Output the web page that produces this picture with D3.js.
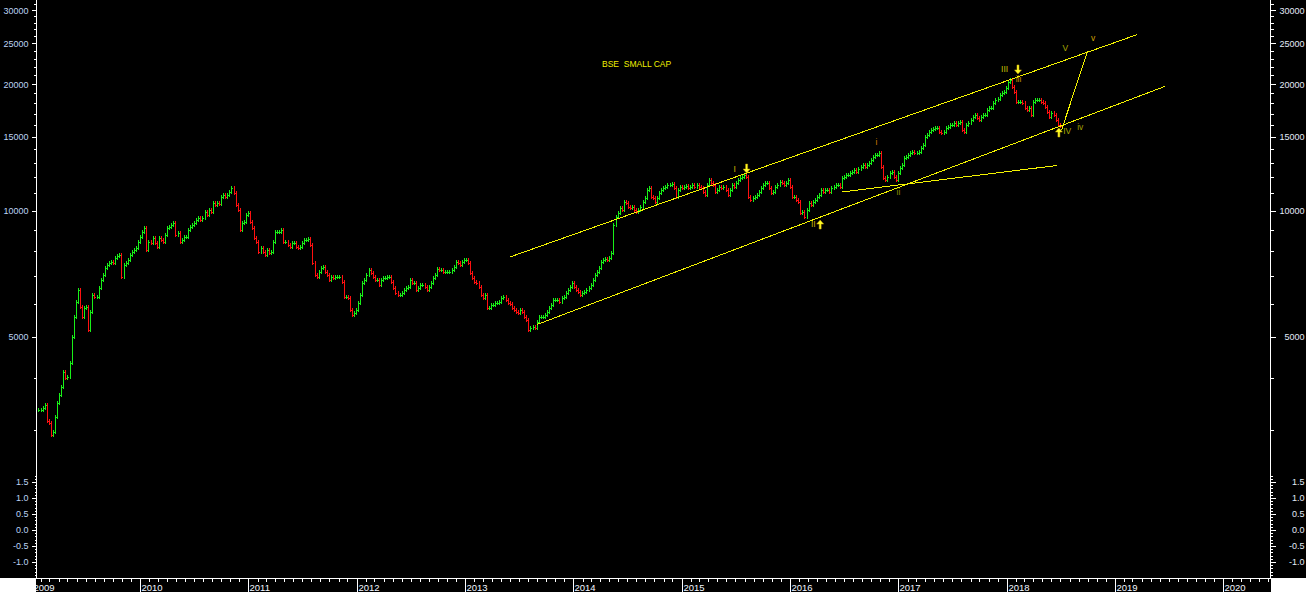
<!DOCTYPE html>
<html>
<head>
<meta charset="utf-8">
<script src="https://d3js.org/d3.v7.min.js"></script>
<style>
  html, body { margin: 0; padding: 0; background: #000; }
  svg { display: block; }
  text { font-family: "Liberation Sans", Arial, sans-serif; }
</style>
</head>
<body>
<div id="mainDiv"></div>
<script>
'use strict';

// weekly closes, one array per calendar year (first bar: week of 23 Jan 2009)
var wk2009 = [3350, 3350, 3390, 3440, 3150, 3120, 2920, 2970, 3220, 3480,
              3640, 3800, 4130, 4000, 4020, 4330, 5000, 5580, 6050, 6470,
              5890, 5580, 5850, 5890, 5190, 5730, 6290, 6220, 6220, 6540,
              6830, 7020, 7300, 7420, 7500, 7540, 7500, 7700, 7790, 7830,
              6940, 7420, 7500, 7620, 7830, 7960, 8050, 8140, 8420];
var wk2010 = [8650, 8890, 9090, 8050, 8420, 8370, 8600, 8370, 8190, 8600,
              8510, 8420, 8740, 9090, 9140, 9240, 9340, 8740, 8840, 8420,
              8510, 8650, 8650, 8990, 9140, 9240, 9340, 9490, 9600, 9490,
              9600, 9920, 9760, 10030, 9920, 10420, 10310, 10420, 10360, 10770,
              10890, 10770, 10890, 11070, 11320, 11010, 10310, 10030, 8990, 9340,
              9390, 9760, 9870];
var wk2011 = [9390, 9090, 8600, 8420, 7960, 8140, 7960, 7830, 8050, 7920,
              7960, 8420, 8890, 8890, 8890, 8990, 8420, 8420, 8280, 8190,
              8370, 8370, 8190, 8140, 8190, 8370, 8510, 8510, 8560, 8280,
              7500, 7020, 6940, 7140, 7300, 7340, 7140, 7020, 6830, 6940,
              6900, 6940, 6940, 6940, 6760, 6220, 6220, 6190, 5790, 5640,
              5700, 5790];
var wk2012 = [6020, 6290, 6720, 6830, 7020, 7220, 7100, 6940, 6830, 6830,
              6650, 6830, 6900, 6900, 6940, 6940, 6760, 6540, 6360, 6290,
              6290, 6360, 6470, 6540, 6580, 6830, 6720, 6720, 6470, 6540,
              6650, 6650, 6580, 6470, 6580, 6720, 6900, 7020, 7260, 7220,
              7220, 7140, 7140, 7140, 7140, 7220, 7340, 7540, 7500, 7420,
              7540, 7620];
var wk2013 = [7620, 7500, 7100, 6900, 6760, 6720, 6580, 6290, 6190, 6290,
              5850, 5850, 5950, 5950, 6020, 6020, 6050, 6190, 6220, 6120,
              6020, 5980, 5850, 5790, 5730, 5700, 5790, 5730, 5580, 5480,
              5190, 5260, 5290, 5240, 5430, 5580, 5580, 5580, 5640, 5730,
              5850, 5950, 6120, 6120, 6120, 6050, 6190, 6220, 6360, 6470,
              6580, 6720];
var wk2014 = [6580, 6470, 6400, 6290, 6360, 6400, 6470, 6540, 6650, 6830,
              7020, 7140, 7300, 7540, 7620, 7660, 7620, 7700, 7920, 9240,
              9650, 9870, 10140, 10030, 10480, 10420, 10200, 10140, 10200, 10030,
              9920, 10030, 10200, 10480, 10710, 11190, 11320, 10770, 10710, 10480,
              10710, 11010, 11190, 11320, 11380, 11500, 11500, 11560, 11320, 10770,
              11190, 11380];
var wk2015 = [11320, 11380, 11440, 11320, 11380, 11500, 11380, 11500, 11380, 11320,
              11070, 10890, 11500, 11820, 11630, 11500, 11070, 11190, 11380, 11320,
              11380, 11190, 10890, 11190, 11500, 11380, 11630, 11820, 11950, 12010,
              12150, 12010, 10770, 10590, 10710, 10770, 10890, 11070, 11320, 11500,
              11630, 11630, 11320, 11010, 11070, 11380, 11500, 11690, 11630, 11500,
              11630, 11820];
var wk2016 = [11380, 10770, 10770, 10590, 10480, 9870, 9920, 9650, 10030, 10420,
              10310, 10480, 10590, 10770, 10890, 11190, 11070, 11190, 11190, 11070,
              11320, 11380, 11500, 11500, 11380, 11950, 12010, 12150, 12150, 12280,
              12350, 12490, 12350, 12560, 12700, 12840, 12700, 12840, 12980, 13190,
              13410, 13560, 13560, 13710, 12700, 11950, 11820, 12010, 12280, 12350,
              12010, 11820, 12280];
var wk2017 = [12630, 12840, 13330, 13410, 13560, 13710, 13790, 13710, 13710, 13790,
              14090, 14320, 14960, 15130, 15380, 15550, 15640, 15720, 15720, 15380,
              15300, 15380, 15720, 15810, 15980, 15980, 16160, 15980, 16160, 16250,
              15550, 15380, 15980, 16160, 16430, 16700, 16890, 16610, 16430, 16700,
              16890, 16890, 17360, 17550, 17550, 18030, 18330, 18430, 18840, 19050,
              19160, 19580];
var wk2018 = [20250, 20460, 19690, 19160, 18130, 18130, 18130, 18030, 17550, 17360,
              17550, 16890, 18130, 18330, 18330, 18330, 18130, 18030, 17640, 17170,
              16700, 17080, 16890, 16430, 15980, 15890];

var firstWeek = '2009-01-23';

var yearTicks = [2009, 2010, 2011, 2012, 2013, 2014, 2015, 2016, 2017, 2018, 2019, 2020];
var priceLabels = [5000, 10000, 15000, 20000, 25000, 30000];
var oscLabels = [1.5, 1.0, 0.5, 0.0, -0.5, -1.0];

// drawn studies: [start date, start value, end date, end value]
var trendLines = [
  ['2013-06-01', 7750, '2019-03-18', 26260],
  ['2013-08-31', 5350, '2019-06-18', 19750],
  ['2016-06-24', 11070, '2018-06-19', 12800],
  ['2018-07-05', 15550, '2018-10-01', 24000]
];

// wave counts: [text, date, value, colour]
var waveLabels = [
  ['I', '2015-06-29', 12350, '#d8b400'],
  ['II', '2016-03-20', 9160, '#c8b400'],
  ['i', '2016-10-19', 14290, '#d07800'],
  ['ii', '2017-01-01', 10860, '#8c8c00'],
  ['III', '2017-12-25', 21320, '#c8c000'],
  ['iii', '2018-02-10', 20290, '#c89000'],
  ['IV', '2018-07-24', 15210, '#a8a800'],
  ['iv', '2018-09-06', 15510, '#a0a000'],
  ['V', '2018-07-18', 23920, '#a8a800'],
  ['v', '2018-10-19', 25270, '#d0a000']
];

// arrows: [direction, date, value at tip]
var waveArrows = [
  ['down', '2015-08-08', 12280],
  ['up', '2016-04-12', 9490],
  ['down', '2018-02-08', 21150],
  ['up', '2018-06-26', 15720]
];

var myChart = {};

myChart.width = 1306;
myChart.height = 592;
myChart.plot = {left: 36, right: 1270, top: 0, bottom: 578};
myChart.svg = undefined;
myChart.parse = d3.utcParse('%Y-%m-%d');

myChart.makeScales = function()
{
    myChart.x = d3.scaleUtc()
        .domain([myChart.parse('2009-01-01'), myChart.parse('2020-01-01')])
        .range([31.9, 1223.2]);

    myChart.y = d3.scaleLog()
        .domain([5000, 30000])
        .range([336.9, 10.2]);

    myChart.osc = d3.scaleLinear()
        .domain([-1, 1.5])
        .range([562, 482]);
}

myChart.appendSvg = function(div)
{
    myChart.svg = d3.select(div).append('svg')
        .attr('width', myChart.width)
        .attr('height', myChart.height)
        .style('background', '#000');
}

myChart.vAxis = function(side, scale, values, size, labelled, fmt)
{
    var P = myChart.plot;
    var ax = side == 'left' ? d3.axisLeft(scale) : d3.axisRight(scale);
    ax.tickValues(values).tickSize(size).tickPadding(3)
        .tickFormat(labelled ? fmt : '');

    var g = myChart.svg.append('g')
        .attr('transform', 'translate(' + ((side == 'left' ? P.left : P.right) + 0.5) + ',0)')
        .attr('color', '#ffffff')
        .style('shape-rendering', 'crispEdges')
        .call(ax);
    g.select('.domain').remove();
    g.selectAll('text')
        .attr('fill', side == 'left' ? '#bcd4f4' : '#e2eaf8')
        .style('font-size', '9px');
    if (side == 'right') {
        g.selectAll('text').attr('text-anchor', 'end').attr('x', 34);
    }
}

myChart.drawAxes = function()
{
    var P = myChart.plot, svg = myChart.svg;
    var priceMinor = d3.range(3000, 32000, 1000).filter(function(v) { return priceLabels.indexOf(v) < 0; });
    var oscMinor = d3.range(-15, 18).map(function(v) { return v / 10; });
    var fmtOsc = d3.format('.1f');

    ['left', 'right'].forEach(function(side) {
        myChart.vAxis(side, myChart.y, priceMinor, 3, false);
        myChart.vAxis(side, myChart.y, priceLabels, 5, true, d3.format('d'));
        myChart.vAxis(side, myChart.osc, oscMinor, 2, false);
        myChart.vAxis(side, myChart.osc, oscLabels, 5, true, function(d) { return fmtOsc(d).replace('−', '-'); });
    });

    var frame = svg.append('g')
        .attr('stroke', '#ffffff')
        .style('shape-rendering', 'crispEdges');
    frame.append('line')
        .attr('x1', P.left + 0.5).attr('x2', P.left + 0.5)
        .attr('y1', P.top).attr('y2', P.bottom + 1);
    frame.append('line')
        .attr('x1', P.right + 0.5).attr('x2', P.right + 0.5)
        .attr('y1', P.top).attr('y2', P.bottom + 1);
    frame.append('line')
        .attr('x1', P.left).attr('x2', P.right + 1)
        .attr('y1', P.bottom + 0.5).attr('y2', P.bottom + 0.5);

    // month ticks along the time axis
    var months = d3.utcMonth.range(myChart.parse('2009-01-01'), myChart.parse('2020-12-31'))
        .filter(function(d) { return d.getUTCMonth() != 0; });
    frame.selectAll('.mtick')
        .data(months.filter(function(d) { var x = myChart.x(d); return x > P.left && x < P.right; }))
        .join('line')
        .attr('class', 'mtick')
        .attr('x1', function(d) { return Math.round(myChart.x(d)) + 0.5; })
        .attr('x2', function(d) { return Math.round(myChart.x(d)) + 0.5; })
        .attr('y1', P.bottom)
        .attr('y2', P.bottom + 4);

    var years = yearTicks.map(function(y) { return {year: y, date: myChart.parse(y + '-01-01')}; });
    frame.selectAll('.ytick')
        .data(years)
        .join('line')
        .attr('class', 'ytick')
        .attr('x1', function(d) { return Math.round(myChart.x(d.date)) + 0.5; })
        .attr('x2', function(d) { return Math.round(myChart.x(d.date)) + 0.5; })
        .attr('y1', P.bottom)
        .attr('y2', myChart.height);

    svg.append('g').selectAll('text')
        .data(years)
        .join('text')
        .attr('x', function(d) { return Math.round(myChart.x(d.date)) + 1.5; })
        .attr('y', 590.5)
        .attr('fill', '#f2f6ff')
        .style('font-size', '9.5px')
        .text(function(d) { return d.year; });

    // white corners under the price scales
    svg.append('rect')
        .attr('x', 0).attr('y', P.bottom)
        .attr('width', P.left).attr('height', myChart.height - P.bottom)
        .attr('fill', '#ffffff');
    svg.append('rect')
        .attr('x', P.right + 1).attr('y', P.bottom)
        .attr('width', myChart.width - P.right - 1).attr('height', myChart.height - P.bottom)
        .attr('fill', '#ffffff');
}

myChart.drawBars = function()
{
    var closes = [].concat(wk2009, wk2010, wk2011, wk2012, wk2013, wk2014,
                           wk2015, wk2016, wk2017, wk2018);
    var start = myChart.parse(firstWeek);
    var bars = closes.map(function(c, i) {
        return {date: d3.utcDay.offset(start, 7 * i), open: i ? closes[i - 1] : c, close: c};
    });

    myChart.svg.append('g')
        .attr('class', 'bars')
        .attr('fill', 'none')
        .style('shape-rendering', 'crispEdges')
        .selectAll('path')
        .data(bars)
        .join('path')
        .attr('stroke', function(d) { return d.close >= d.open ? '#18f018' : '#ff1010'; })
        .attr('d', function(d) {
            var x = Math.round(myChart.x(d.date)) + 0.5;
            var hi = Math.round(myChart.y(Math.max(d.open, d.close))) - 2;
            var lo = Math.round(myChart.y(Math.min(d.open, d.close))) + 2;
            var yc = Math.round(myChart.y(d.close)) + 0.5;
            return 'M' + x + ',' + hi + 'V' + lo + 'M' + (x - 0.5) + ',' + yc + 'h2';
        });
}

myChart.drawStudies = function()
{
    var svg = myChart.svg, X = myChart.x, Y = myChart.y, pd = myChart.parse;

    svg.append('g')
        .attr('stroke', '#f4f400')
        .style('shape-rendering', 'crispEdges')
        .selectAll('line')
        .data(trendLines)
        .join('line')
        .attr('x1', function(d) { return X(pd(d[0])); })
        .attr('y1', function(d) { return Y(d[1]); })
        .attr('x2', function(d) { return X(pd(d[2])); })
        .attr('y2', function(d) { return Y(d[3]); });

    svg.append('text')
        .attr('x', 602)
        .attr('y', 66.5)
        .attr('fill', '#f0f000')
        .style('font-size', '8.5px')
        .style('white-space', 'pre')
        .text('BSE  SMALL CAP');

    svg.append('g').selectAll('text')
        .data(waveLabels)
        .join('text')
        .attr('x', function(d) { return X(pd(d[1])); })
        .attr('y', function(d) { return Y(d[2]); })
        .attr('text-anchor', 'middle')
        .attr('fill', function(d) { return d[3]; })
        .style('font-size', '8.5px')
        .text(function(d) { return d[0]; });

    var downArrow = 'M0,0 L-3.5,-4 L-1,-4 L-1,-9 L1,-9 L1,-4 L3.5,-4 Z';
    var upArrow = 'M0,0 L-3.5,4 L-1,4 L-1,9 L1,9 L1,4 L3.5,4 Z';
    svg.append('g').selectAll('path')
        .data(waveArrows)
        .join('path')
        .attr('transform', function(d) {
            return 'translate(' + X(pd(d[1])) + ',' + Y(d[2]) + ')';
        })
        .attr('d', function(d) { return d[0] == 'down' ? downArrow : upArrow; })
        .attr('fill', '#ffff28')
        .attr('stroke', '#c8a000')
        .attr('stroke-width', 0.5);
}

myChart.run = function()
{
    myChart.appendSvg('#mainDiv');
    myChart.makeScales();
    myChart.drawBars();
    myChart.drawStudies();
    myChart.drawAxes();
}

window.onload = myChart.run;
</script>
</body>
</html>
